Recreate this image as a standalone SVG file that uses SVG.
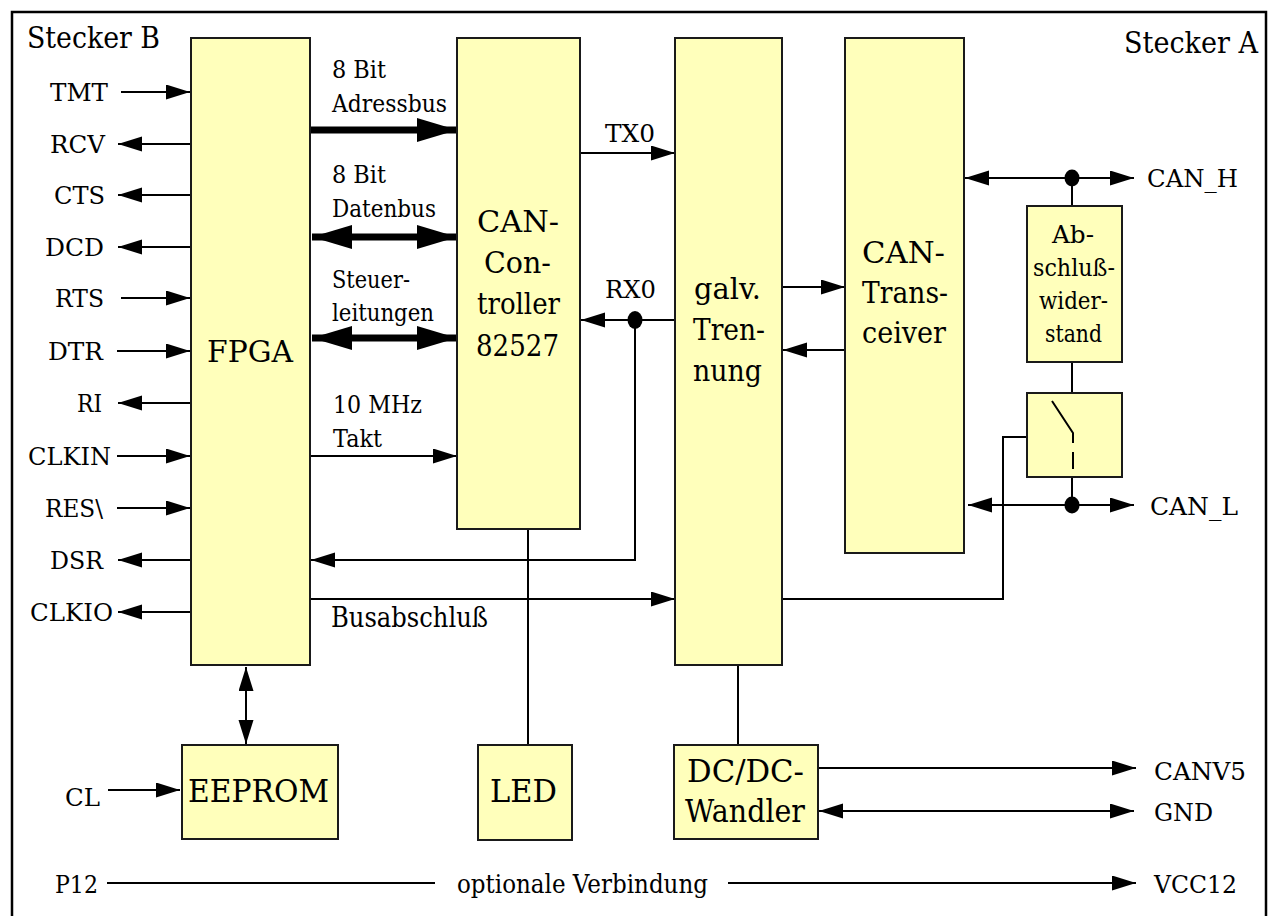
<svg xmlns="http://www.w3.org/2000/svg" width="1271" height="916" viewBox="0 0 1271 916" font-family="'DejaVu Serif', 'Liberation Serif', serif">
<defs>
<style>
.box{fill:#ffffbb;stroke:#1a1a1a;stroke-width:2}
.ln{fill:none;stroke:#000;stroke-width:2}
.thick{fill:none;stroke:#000;stroke-width:7}
.dash{fill:none;stroke:#000;stroke-width:1.5;stroke-dasharray:7 5}
text{fill:#000;font-family:'DejaVu Serif','Liberation Serif',serif}
.s27{font-size:24.5px}
.s33{font-size:30px}
.s34{font-size:31px}
</style>
<marker id="a" markerUnits="userSpaceOnUse" markerWidth="26" markerHeight="16" refX="24" refY="7.5" orient="auto-start-reverse" viewBox="0 0 26 16">
<path d="M0,0 L24,7.5 L0,15 z" fill="#000"/>
</marker>
<marker id="A" markerUnits="userSpaceOnUse" markerWidth="42" markerHeight="26" refX="40" refY="12" orient="auto-start-reverse" viewBox="0 0 42 26">
<path d="M0,0 L40,12 L0,24 z" fill="#000"/>
</marker>
</defs>
<rect width="1271" height="916" fill="#fff"/>
<rect x="12" y="12" width="1254" height="915" fill="none" stroke="#000" stroke-width="2.5"/>
<text x="27" y="48" font-size="30" textLength="133" lengthAdjust="spacingAndGlyphs">Stecker B</text>
<text x="1124" y="53" font-size="30" textLength="134" lengthAdjust="spacingAndGlyphs">Stecker A</text>

<g id="connectors">
<line class="ln" x1="121" y1="92" x2="190" y2="92" marker-end="url(#a)"/>
<line class="ln" x1="191" y1="144" x2="118" y2="144" marker-end="url(#a)"/>
<line class="ln" x1="191" y1="195" x2="118" y2="195" marker-end="url(#a)"/>
<line class="ln" x1="191" y1="247" x2="118" y2="247" marker-end="url(#a)"/>
<line class="ln" x1="121" y1="298" x2="190" y2="298" marker-end="url(#a)"/>
<line class="ln" x1="117" y1="351" x2="190" y2="351" marker-end="url(#a)"/>
<line class="ln" x1="191" y1="403" x2="118" y2="403" marker-end="url(#a)"/>
<line class="ln" x1="117" y1="456" x2="190" y2="456" marker-end="url(#a)"/>
<line class="ln" x1="117" y1="508" x2="190" y2="508" marker-end="url(#a)"/>
<line class="ln" x1="191" y1="560" x2="118" y2="560" marker-end="url(#a)"/>
<line class="ln" x1="191" y1="612" x2="118" y2="612" marker-end="url(#a)"/>
<line class="dash" x1="193" y1="456" x2="310" y2="456"/>
<line class="dash" x1="193" y1="560" x2="310" y2="560"/>
<line class="thick" x1="310" y1="130" x2="457" y2="130" marker-end="url(#A)"/>
<line class="thick" x1="312" y1="237" x2="457" y2="237" marker-start="url(#A)" marker-end="url(#A)"/>
<line class="thick" x1="312" y1="338" x2="457" y2="338" marker-start="url(#A)" marker-end="url(#A)"/>
<line class="ln" x1="310" y1="456" x2="457" y2="456" marker-end="url(#a)"/>
<line class="ln" x1="580" y1="153" x2="675" y2="153" marker-end="url(#a)"/>
<line class="ln" x1="675" y1="320" x2="581" y2="320" marker-end="url(#a)"/>
<ellipse cx="635" cy="320" rx="7.5" ry="9" fill="#000"/>
<polyline class="ln" points="635,320 635,560 311,560" marker-end="url(#a)"/>
<line class="ln" x1="310" y1="599" x2="675" y2="599" marker-end="url(#a)"/>
<polyline class="ln" points="782,599 1003,599 1003,437 1027,437"/>
<line class="ln" x1="782" y1="287" x2="845" y2="287" marker-end="url(#a)"/>
<line class="ln" x1="845" y1="350" x2="783" y2="350" marker-end="url(#a)"/>
<line class="ln" x1="965" y1="178" x2="1134" y2="178" marker-start="url(#a)" marker-end="url(#a)"/>
<ellipse cx="1072" cy="178" rx="7.5" ry="8.5" fill="#000"/>
<line class="ln" x1="1072" y1="178" x2="1072" y2="206"/>
<line class="ln" x1="1072" y1="362" x2="1072" y2="395"/>
<line class="ln" x1="968" y1="505" x2="1134" y2="505" marker-start="url(#a)" marker-end="url(#a)"/>
<ellipse cx="1072" cy="505" rx="7.5" ry="8.5" fill="#000"/>
<line class="ln" x1="1072" y1="477" x2="1072" y2="505"/>
<line class="ln" x1="246" y1="667" x2="246" y2="744" marker-start="url(#a)" marker-end="url(#a)"/>
<line class="ln" x1="108" y1="790" x2="180" y2="790" marker-end="url(#a)"/>
<line class="ln" x1="528" y1="529" x2="528" y2="745"/>
<line class="ln" x1="738" y1="665" x2="738" y2="745"/>
<line class="ln" x1="818" y1="768" x2="1136" y2="768" marker-end="url(#a)"/>
<line class="ln" x1="819" y1="811" x2="1134" y2="811" marker-start="url(#a)" marker-end="url(#a)"/>
<line class="ln" x1="107" y1="883" x2="435" y2="883"/>
<line class="ln" x1="728" y1="883" x2="1136" y2="883" marker-end="url(#a)"/>
</g>

<g id="labels">
<text class="s27" x="50" y="101" textLength="58" lengthAdjust="spacingAndGlyphs">TMT</text>
<text class="s27" x="50" y="153" textLength="55" lengthAdjust="spacingAndGlyphs">RCV</text>
<text class="s27" x="54" y="204" textLength="51" lengthAdjust="spacingAndGlyphs">CTS</text>
<text class="s27" x="45" y="256" textLength="59" lengthAdjust="spacingAndGlyphs">DCD</text>
<text class="s27" x="55" y="307" textLength="49" lengthAdjust="spacingAndGlyphs">RTS</text>
<text class="s27" x="48" y="360" textLength="55" lengthAdjust="spacingAndGlyphs">DTR</text>
<text class="s27" x="77" y="412" textLength="25" lengthAdjust="spacingAndGlyphs">RI</text>
<text class="s27" x="28" y="465" textLength="83" lengthAdjust="spacingAndGlyphs">CLKIN</text>
<text class="s27" x="45" y="517" textLength="58" lengthAdjust="spacingAndGlyphs">RES\</text>
<text class="s27" x="50" y="569" textLength="53" lengthAdjust="spacingAndGlyphs">DSR</text>
<text class="s27" x="30" y="621" textLength="83" lengthAdjust="spacingAndGlyphs">CLKIO</text>
<text class="s27" x="332" y="78" textLength="54" lengthAdjust="spacingAndGlyphs">8 Bit</text>
<text class="s27" x="332" y="112" textLength="115" lengthAdjust="spacingAndGlyphs">Adressbus</text>
<text class="s27" x="332" y="183" textLength="54" lengthAdjust="spacingAndGlyphs">8 Bit</text>
<text class="s27" x="332" y="217" textLength="104" lengthAdjust="spacingAndGlyphs">Datenbus</text>
<text class="s27" x="332" y="288" textLength="78" lengthAdjust="spacingAndGlyphs">Steuer-</text>
<text class="s27" x="332" y="321" textLength="102" lengthAdjust="spacingAndGlyphs">leitungen</text>
<text class="s27" x="333" y="413" textLength="89" lengthAdjust="spacingAndGlyphs">10 MHz</text>
<text class="s27" x="333" y="447" textLength="49" lengthAdjust="spacingAndGlyphs">Takt</text>
<text x="331" y="627" font-size="27" textLength="157" lengthAdjust="spacingAndGlyphs">Busabschluß</text>
<text class="s27" x="605" y="142" textLength="50" lengthAdjust="spacingAndGlyphs">TX0</text>
<text class="s27" x="605" y="298" textLength="51" lengthAdjust="spacingAndGlyphs">RX0</text>
<text class="s27" x="1147" y="187" textLength="91" lengthAdjust="spacingAndGlyphs">CAN_H</text>
<text class="s27" x="1150" y="515" textLength="88" lengthAdjust="spacingAndGlyphs">CAN_L</text>
<text class="s27" x="65" y="806" textLength="35" lengthAdjust="spacingAndGlyphs">CL</text>
<text class="s27" x="55" y="893" textLength="43" lengthAdjust="spacingAndGlyphs">P12</text>
<text x="457" y="893" font-size="25.5" textLength="251" lengthAdjust="spacingAndGlyphs">optionale Verbindung</text>
<text class="s27" x="1154" y="780" textLength="92" lengthAdjust="spacingAndGlyphs">CANV5</text>
<text class="s27" x="1154" y="821" textLength="59" lengthAdjust="spacingAndGlyphs">GND</text>
<text class="s27" x="1154" y="893" textLength="83" lengthAdjust="spacingAndGlyphs">VCC12</text>
</g>

<g id="fpga">
<rect class="box" x="191" y="38" width="119" height="627"/>
<text class="s33" x="207" y="362" textLength="86" lengthAdjust="spacingAndGlyphs">FPGA</text>
</g>
<g id="can-controller">
<rect class="box" x="457" y="38" width="123" height="491"/>
<text class="s33" x="477" y="232" textLength="82" lengthAdjust="spacingAndGlyphs">CAN-</text>
<text class="s33" x="484" y="273" textLength="67" lengthAdjust="spacingAndGlyphs">Con-</text>
<text class="s33" x="477" y="314" textLength="83" lengthAdjust="spacingAndGlyphs">troller</text>
<text class="s33" x="476" y="356" textLength="83" lengthAdjust="spacingAndGlyphs">82527</text>
</g>
<g id="galv-trennung">
<rect class="box" x="675" y="38" width="107" height="627"/>
<text class="s33" x="694" y="299" textLength="67" lengthAdjust="spacingAndGlyphs">galv.</text>
<text class="s33" x="693" y="340" textLength="72" lengthAdjust="spacingAndGlyphs">Tren-</text>
<text class="s33" x="693" y="381" textLength="69" lengthAdjust="spacingAndGlyphs">nung</text>
</g>
<g id="can-transceiver">
<rect class="box" x="845" y="38" width="119" height="515"/>
<text class="s33" x="862" y="263" textLength="83" lengthAdjust="spacingAndGlyphs">CAN-</text>
<text class="s33" x="862" y="303" textLength="86" lengthAdjust="spacingAndGlyphs">Trans-</text>
<text class="s33" x="862" y="343" textLength="84" lengthAdjust="spacingAndGlyphs">ceiver</text>
</g>
<g id="abschlusswiderstand">
<rect class="box" x="1027" y="206" width="95" height="156"/>
<text class="s27" x="1052" y="243" textLength="42" lengthAdjust="spacingAndGlyphs">Ab-</text>
<text class="s27" x="1033" y="276" textLength="82" lengthAdjust="spacingAndGlyphs">schluß-</text>
<text class="s27" x="1039" y="309" textLength="69" lengthAdjust="spacingAndGlyphs">wider-</text>
<text class="s27" x="1045" y="342" textLength="57" lengthAdjust="spacingAndGlyphs">stand</text>
</g>
<g id="schalter">
<rect class="box" x="1027" y="393" width="95" height="84"/>
<polyline class="ln" points="1052,401 1073,433 1073,443"/>
<line class="ln" x1="1073" y1="452" x2="1073" y2="469"/>
</g>
<g id="eeprom">
<rect class="box" x="182" y="745" width="156" height="94"/>
<text class="s34" x="188" y="802" textLength="141" lengthAdjust="spacingAndGlyphs">EEPROM</text>
</g>
<g id="led">
<rect class="box" x="478" y="745" width="94" height="95"/>
<text class="s34" x="490" y="802" textLength="67" lengthAdjust="spacingAndGlyphs">LED</text>
</g>
<g id="dcdc">
<rect class="box" x="674" y="745" width="144" height="94"/>
<text class="s34" x="687" y="782" textLength="117" lengthAdjust="spacingAndGlyphs">DC/DC-</text>
<text class="s34" x="685" y="822" textLength="120" lengthAdjust="spacingAndGlyphs">Wandler</text>
</g>
</svg>
